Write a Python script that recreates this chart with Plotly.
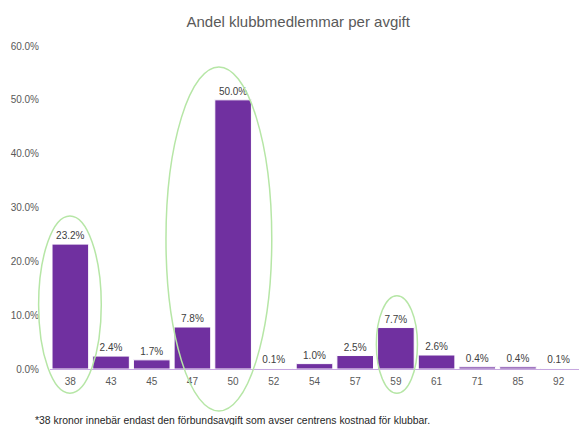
import plotly.graph_objects as go

categories = ["38", "43", "45", "47", "50", "52", "54", "57", "59", "61", "71", "85", "92"]
shares = [0.232, 0.024, 0.017, 0.078, 0.500, 0.001, 0.010, 0.025, 0.077, 0.026, 0.004, 0.004, 0.001]
y_ticks = [0, 0.1, 0.2, 0.3, 0.4, 0.5, 0.6]

title_text = "Andel klubbmedlemmar per avgift"
footnote = "*38 kronor innebär endast den förbundsavgift som avser centrens kostnad för klubbar."

# highlight ellipses: (category index range, value range)
ellipses = [(-0.78, 0.76, -0.045, 0.284), (2.35, 4.95, -0.078, 0.561), (7.52, 8.53, -0.045, 0.136)]

x_range = [-0.5, len(categories) - 0.5]
y_range = [0, 0.6]


def to_paper_x(v):
    return (v - x_range[0]) / (x_range[1] - x_range[0])


def to_paper_y(v):
    return (v - y_range[0]) / (y_range[1] - y_range[0])


fig = go.Figure(go.Bar(
    x=categories, y=shares,
    marker=dict(color="#7030A0", line=dict(color="#ffffff", width=1)),
    text=[f"{v*100:.1f}%" for v in shares],
    textposition="outside",
    textfont=dict(family="Liberation Sans, Arial", size=10, color="#404040"),
    cliponaxis=False,
))

for x0, x1, y0, y1 in ellipses:
    # paper-referenced so the ellipses are not clipped at the plot edges
    fig.add_shape(type="circle", xref="paper", yref="paper",
                  x0=to_paper_x(x0), x1=to_paper_x(x1),
                  y0=to_paper_y(y0), y1=to_paper_y(y1),
                  line=dict(color="#b6e6a6", width=1.5), layer="above")

fig.update_layout(
    width=579, height=425,
    margin=dict(l=50, r=0, t=46, b=56),
    plot_bgcolor="white", paper_bgcolor="white",
    bargap=0.1,
    showlegend=False,
    font=dict(family="Liberation Sans, Arial", color="#595959"),
    title=dict(text=title_text, x=0.515, xanchor="center", y=0.948, yanchor="middle",
               font=dict(size=15, color="#595959")),
    xaxis=dict(range=x_range, showgrid=False, showline=True,
               linecolor="#c7a8e0", linewidth=1,
               ticks="", tickfont=dict(size=10, color="#595959"), automargin=False,
               ticklabelstandoff=3),
    yaxis=dict(range=y_range, tickvals=y_ticks, tickformat=".1%", showgrid=False,
               zeroline=False, showline=False, ticks="", automargin=False,
               ticklabelstandoff=10,
               tickfont=dict(size=10, color="#595959")),
    annotations=[dict(text=footnote, xref="paper", yref="paper", x=-0.032, y=-0.158,
                      xanchor="left", yanchor="middle", showarrow=False,
                      font=dict(size=10.4, color="#262626"))],
)

fig.write_html("out.html", config={"displayModeBar": False},
               post_script="document.body.style.margin='0';document.body.style.overflow='hidden';")
